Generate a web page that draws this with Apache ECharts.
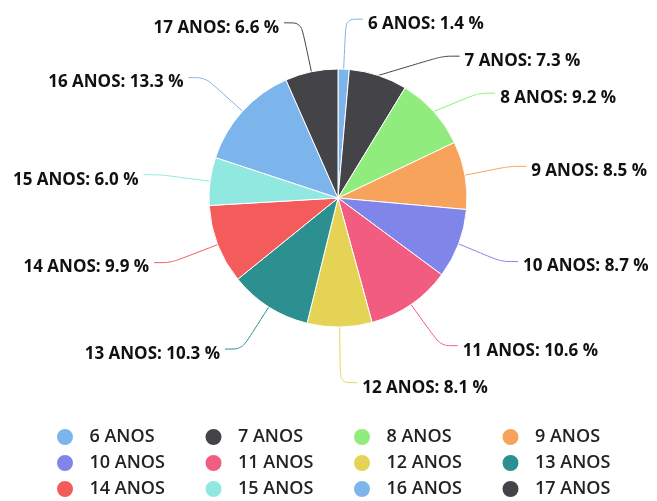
<!DOCTYPE html>
<html>
<head>
<meta charset="utf-8">
<script src="https://cdn.jsdelivr.net/npm/echarts@6/dist/echarts.min.js"></script>
<style>
  html, body { margin: 0; padding: 0; background: #fff; }
  #chart { width: 657px; height: 501px; }
</style>
</head>
<body>
<div id="chart"></div>
<script>
var ageLabels = ['6 ANOS', '7 ANOS', '8 ANOS', '9 ANOS', '10 ANOS', '11 ANOS',
  '12 ANOS', '13 ANOS', '14 ANOS', '15 ANOS', '16 ANOS', '17 ANOS']
var agePercent = [1.4, 7.3, 9.2, 8.5, 8.7, 10.6, 8.1, 10.3, 9.9, 6.0, 13.3, 6.6]
var sliceColors = ['#7cb5ec', '#434348', '#90ed7d', '#f7a35c', '#8085e9', '#f15c80',
  '#e4d354', '#2b908f', '#f45b5b', '#91e8e1', '#7cb5ec', '#434348']

var chart = echarts.init(document.getElementById('chart'))
chart.setOption({
  color: sliceColors,
  animation: false,
  legend: {
    left: 50,
    top: 419,
    width: 620,
    itemGap: 0,
    itemWidth: 39,
    itemHeight: 18,
    icon: 'circle',
    textStyle: {
      fontFamily: 'Open Sans',
      fontSize: 18,
      fontWeight: 600,
      color: '#222',
      width: 114,
      lineHeight: 26
    },
    data: ageLabels
  },
  series: [{
    name: 'Idade',
    type: 'pie',
    radius: 129,
    center: [338, 198],
    startAngle: 90,
    clockwise: true,
    itemStyle: { borderColor: '#fff', borderWidth: 1 },
    label: {
      show: true,
      formatter: function(p) { return p.name + ': ' + p.value.toFixed(1) + ' %' },
      fontFamily: 'Open Sans',
      fontWeight: 'bold',
      fontSize: 17,
      color: '#111',
      overflow: 'none',
      padding: [6, 0, 0, 0],
      minMargin: 20,
      offset: [0, 5]
    },
    labelLine: {
      show: true,
      smooth: 0.3,
      length: 50,
      length2: 17,
      lineStyle: { width: 1 }
    },
    data: ageLabels.map(function(name, i) {
      return { name: name, value: agePercent[i] }
    })
  }]
})
</script>
</body>
</html>
